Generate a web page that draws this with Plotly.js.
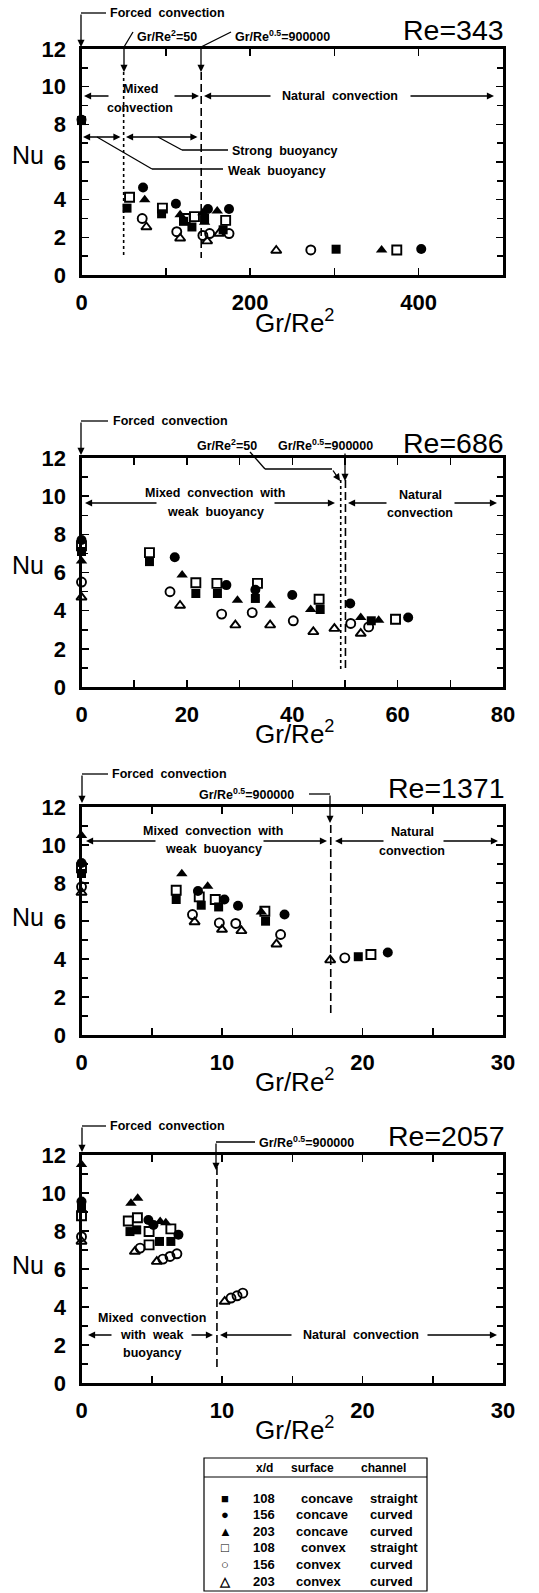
<!DOCTYPE html>
<html>
<head>
<meta charset="utf-8">
<script src="https://cdn.plot.ly/plotly-3.0.1.min.js"></script>
<style>html,body{margin:0;padding:0;background:#fff;}#chart{width:539px;height:1593px;}</style>
</head>
<body>
<div id="chart"></div>
<script>
// ---------------- DATA ----------------
// Re = 343 (x: Gr/Re^2, y: Nu)
const re343_fsq_x = [0, 54, 95, 121, 131, 146, 168, 302];
const re343_fsq_y = [8.2, 3.55, 3.25, 2.85, 2.55, 3.0, 2.4, 1.37];
const re343_fci_x = [0, 73, 112, 150, 175, 403];
const re343_fci_y = [8.25, 4.65, 3.78, 3.5, 3.5, 1.38];
const re343_ftr_x = [75, 117, 144, 146, 161, 356];
const re343_ftr_y = [4.0, 3.2, 3.3, 2.8, 3.4, 1.33];
const re343_osq_x = [57, 96, 123, 134, 171, 374];
const re343_osq_y = [4.13, 3.55, 3.0, 3.1, 2.9, 1.33];
const re343_oci_x = [72, 113, 144, 152, 175, 272];
const re343_oci_y = [3.0, 2.3, 2.1, 2.2, 2.2, 1.33];
const re343_otr_x = [77, 117, 149, 163, 231];
const re343_otr_y = [2.55, 1.95, 1.8, 2.2, 1.3];

// Re = 686
const re686_fsq_x = [0, 12.9, 21.7, 25.8, 33, 45.3, 55];
const re686_fsq_y = [7.1, 6.57, 4.9, 4.9, 4.64, 4.06, 3.47];
const re686_fci_x = [0, 17.7, 27.5, 33, 40, 51, 62];
const re686_fci_y = [7.7, 6.8, 5.34, 5.1, 4.82, 4.38, 3.64];
const re686_ftr_x = [0, 19.1, 29.6, 35.8, 43.5, 53, 56.4];
const re686_ftr_y = [6.6, 5.87, 4.55, 4.29, 4.06, 3.64, 3.5];
const re686_osq_x = [0, 12.9, 21.7, 25.7, 33.4, 45.1, 59.6];
const re686_osq_y = [7.4, 7.04, 5.46, 5.43, 5.43, 4.6, 3.55];
const re686_oci_x = [0, 16.8, 26.6, 32.4, 40.2, 51.1, 54.5];
const re686_oci_y = [5.5, 4.99, 3.82, 3.9, 3.47, 3.33, 3.15];
const re686_otr_x = [0, 18.7, 29.2, 35.8, 44, 48, 53];
const re686_otr_y = [4.7, 4.27, 3.24, 3.24, 2.89, 3.06, 2.8];

// Re = 1371
const re1371_fsq_x = [0, 6.74, 8.52, 9.76, 13.1, 19.7];
const re1371_fsq_y = [8.5, 7.13, 6.83, 6.74, 5.99, 4.12];
const re1371_fci_x = [0, 8.29, 10.17, 11.14, 14.45, 21.8];
const re1371_fci_y = [9.05, 7.58, 7.13, 6.8, 6.34, 4.34];
const re1371_ftr_x = [0, 7.14, 8.98, 12.8];
const re1371_ftr_y = [10.5, 8.49, 7.83, 6.48];
const re1371_osq_x = [0, 6.74, 8.38, 9.52, 13.05, 20.6];
const re1371_osq_y = [8.8, 7.62, 7.27, 7.13, 6.51, 4.24];
const re1371_oci_x = [0, 7.9, 9.81, 10.98, 14.17, 18.74];
const re1371_oci_y = [7.8, 6.34, 5.9, 5.87, 5.29, 4.06];
const re1371_otr_x = [0, 8.05, 10.0, 11.38, 13.88, 17.7];
const re1371_otr_y = [7.5, 5.95, 5.55, 5.48, 4.78, 3.94];

// Re = 2057
const re2057_fsq_x = [0, 3.45, 3.93, 5.55, 6.36];
const re2057_fsq_y = [9.2, 7.97, 8.06, 7.45, 7.45];
const re2057_fci_x = [0, 4.76, 5.12, 6.9];
const re2057_fci_y = [9.55, 8.58, 8.32, 7.8];
const re2057_ftr_x = [0, 3.52, 4.0, 5.6, 6.0];
const re2057_ftr_y = [11.5, 9.46, 9.72, 8.5, 8.44];
const re2057_osq_x = [0, 3.33, 3.98, 4.81, 4.81, 6.36];
const re2057_osq_y = [8.8, 8.53, 8.7, 7.97, 7.27, 8.11];
const re2057_oci_x = [0, 4.17, 5.79, 6.3, 6.79, 10.64, 11.07, 11.48];
const re2057_oci_y = [7.7, 7.1, 6.52, 6.66, 6.8, 4.47, 4.59, 4.73];
const re2057_otr_x = [0, 3.8, 5.36, 10.19];
const re2057_otr_y = [7.45, 6.92, 6.39, 4.29];

// Panel titles / axes
const panelTitles = ['Re=343', 'Re=686', 'Re=1371', 'Re=2057'];
const xRanges = [[0, 500], [0, 80], [0, 30], [0, 30]];
const xMajor = [200, 20, 10, 10];
const xMinor = [100, 10, 5, 5];

// Legend table
const legendXd = ['108', '156', '203', '108', '156', '203'];
const legendSurface = ['concave', 'concave', 'concave', 'convex', 'convex', 'convex'];
const legendChannel = ['straight', 'curved', 'curved', 'straight', 'curved', 'curved'];
const legendGlyph = ['■', '●', '▲', '□', '○', '△'];

// ---------------- BUILD ----------------
const W = 539, H = 1593;
const fx = x => x / W, fy = y => 1 - y / H;
const FONT = 'Liberation Sans, Arial, Helvetica, sans-serif';

const styles = {
  fsq: {symbol: 'square', size: 9, color: 'black'},
  fci: {symbol: 'circle', size: 10, color: 'black'},
  ftr: {symbol: 'triangle-up', size: 10, color: 'black'},
  osq: {symbol: 'square-open', size: 9, color: 'black', line: {width: 1.9, color: 'black'}},
  oci: {symbol: 'circle-open', size: 9, color: 'black', line: {width: 1.9, color: 'black'}},
  otr: {symbol: 'triangle-up-open', size: 9, color: 'black', line: {width: 1.9, color: 'black'}}
};

const panels = [
  [[re343_fsq_x, re343_fsq_y, 'fsq'], [re343_fci_x, re343_fci_y, 'fci'], [re343_ftr_x, re343_ftr_y, 'ftr'],
   [re343_osq_x, re343_osq_y, 'osq'], [re343_oci_x, re343_oci_y, 'oci'], [re343_otr_x, re343_otr_y, 'otr']],
  [[re686_fsq_x, re686_fsq_y, 'fsq'], [re686_fci_x, re686_fci_y, 'fci'], [re686_ftr_x, re686_ftr_y, 'ftr'],
   [re686_osq_x, re686_osq_y, 'osq'], [re686_oci_x, re686_oci_y, 'oci'], [re686_otr_x, re686_otr_y, 'otr']],
  [[re1371_fsq_x, re1371_fsq_y, 'fsq'], [re1371_fci_x, re1371_fci_y, 'fci'], [re1371_ftr_x, re1371_ftr_y, 'ftr'],
   [re1371_osq_x, re1371_osq_y, 'osq'], [re1371_oci_x, re1371_oci_y, 'oci'], [re1371_otr_x, re1371_otr_y, 'otr']],
  [[re2057_fsq_x, re2057_fsq_y, 'fsq'], [re2057_fci_x, re2057_fci_y, 'fci'], [re2057_ftr_x, re2057_ftr_y, 'ftr'],
   [re2057_osq_x, re2057_osq_y, 'osq'], [re2057_oci_x, re2057_oci_y, 'oci'], [re2057_otr_x, re2057_otr_y, 'otr']]
];

// pixel geometry of each panel frame (top, bottom)
const frames = [[49, 275], [458, 687], [807, 1035], [1155, 1383]];
const xDom = [fx(81.5), fx(503)];

const traces = [];
panels.forEach((p, i) => {
  const sfx = i === 0 ? '' : String(i + 1);
  p.forEach(([xs, ys, st]) => {
    traces.push({
      type: 'scatter', mode: 'markers', x: xs, y: ys,
      xaxis: 'x' + sfx, yaxis: 'y' + sfx,
      marker: styles[st], cliponaxis: false, showlegend: false, hoverinfo: 'x+y'
    });
  });
});

const layout = {
  width: W, height: H, margin: {l: 0, r: 0, t: 0, b: 0},
  paper_bgcolor: 'white', plot_bgcolor: 'white', showlegend: false,
  font: {family: FONT, color: 'black'},
  shapes: [], annotations: []
};

frames.forEach(([top, bot], i) => {
  const sfx = i === 0 ? '' : String(i + 1);
  const common = {
    showline: true, linewidth: 3, linecolor: 'black', mirror: 'allticks',
    ticks: 'inside', ticklen: 7, tickwidth: 1.5, tickcolor: 'black',
    showgrid: false, zeroline: false, fixedrange: true,
    tickfont: {family: FONT, size: 22, color: 'black', weight: 'bold'}
  };
  layout['xaxis' + sfx] = Object.assign({}, common, {
    domain: xDom, range: xRanges[i], dtick: xMajor[i], tick0: 0, anchor: 'y' + sfx,
    minor: {dtick: xMinor[i], tick0: 0, ticks: 'inside', ticklen: 7, tickwidth: 1.5, tickcolor: 'black'},
    ticklabelstandoff: 6
  });
  layout['yaxis' + sfx] = Object.assign({}, common, {
    domain: [fy(bot), fy(top)], range: [0, 12], dtick: 2, tick0: 0, anchor: 'x' + sfx,
    minor: {dtick: 1, tick0: 0, ticks: 'inside', ticklen: 6, tickwidth: 1.5, tickcolor: 'black'},
    ticklabelstandoff: 8
  });
});

// helpers for decorations (pixel coordinates of the page)
function L(x0, y0, x1, y1, w, dash) {
  layout.shapes.push({type: 'line', xref: 'paper', yref: 'paper',
    x0: fx(x0), y0: fy(y0), x1: fx(x1), y1: fy(y1),
    line: {color: 'black', width: w || 1.3, dash: dash || 'solid'}});
}
function VL(xref, xv, y0, y1, dash) {
  layout.shapes.push({type: 'line', xref: xref, yref: 'paper',
    x0: xv, x1: xv, y0: fy(y0), y1: fy(y1),
    line: {color: 'black', width: 1.6, dash: dash}});
}
function A(xh, yh, xt, yt, both) {
  layout.annotations.push({xref: 'paper', yref: 'paper', x: fx(xh), y: fy(yh),
    ax: xt - xh, ay: yt - yh, text: '', showarrow: true, arrowhead: 2, arrowsize: 1.1,
    arrowwidth: 1.3, arrowcolor: 'black', standoff: 0, startstandoff: 0,
    arrowside: both ? 'end+start' : 'end', startarrowhead: 2, startarrowsize: 1.1});
}
function T(x, y, s, size, anchor, bold) {
  layout.annotations.push({xref: 'paper', yref: 'paper', x: fx(x), y: fy(y), text: s,
    showarrow: false, xanchor: anchor || 'center', yanchor: 'middle',
    font: {family: FONT, size: size, color: 'black', weight: bold === false ? 'normal' : 'bold'}});
}

const SM = 12.5;
// axis titles and Re labels
const nuY = [155, 565, 917, 1265];
const titleY = [321, 732, 1080, 1428];
const reY = [30, 443, 788, 1136];
frames.forEach((f, i) => {
  T(28, nuY[i], 'Nu', 25, 'center', false);
  T(294, titleY[i], 'Gr/Re<sup>2</sup>', 26, 'center', false);
  T(506, reY[i], panelTitles[i], 28.5, 'right', false);
});

// ----- Panel 1 (Re=343)
T(108, 13, 'Forced  convection', SM, 'left');
L(106, 13, 81, 13); A(81, 47, 81, 13);
T(135, 36, 'Gr/Re<sup>2</sup>=50', SM, 'left');
L(133, 32, 124, 47); A(124, 72, 124, 47);
T(233, 36, 'Gr/Re<sup>0.5</sup>=900000', SM, 'left');
L(231, 32, 201, 47); A(201, 72, 201, 47);
VL('x', 50, 72, 258, '3px,3px');
VL('x', 142, 72, 258, '8px,4px');
A(84, 96, 110, 96); T(140, 89, 'Mixed', SM); T(140, 108, 'convection', SM); A(199, 96, 173, 96);
A(204, 96, 272, 96); T(340, 96, 'Natural  convection', SM); A(494, 96, 409, 96);
A(83, 137, 122, 137, true); A(126, 137, 199, 137, true);
L(158, 137, 182, 150); L(182, 150, 228, 150); T(230, 151, 'Strong  buoyancy', SM, 'left');
L(97, 137, 152, 169); L(152, 169, 223, 169); T(226, 171, 'Weak  buoyancy', SM, 'left');

// ----- Panel 2 (Re=686)
T(111, 421, 'Forced  convection', SM, 'left');
L(108, 421, 81, 421); A(81, 455, 81, 421);
T(195, 445, 'Gr/Re<sup>2</sup>=50', SM, 'left');
T(276, 445, 'Gr/Re<sup>0.5</sup>=900000', SM, 'left');
L(250, 452, 265, 469); L(265, 469, 332, 469); A(340, 481, 332, 469);
A(345, 481, 345, 452);
VL('x2', 49.2, 480, 670, '3px,3px');
VL('x2', 50.1, 480, 670, '8px,4px');
T(215, 493, 'Mixed  convection  with', SM); T(215, 512, 'weak  buoyancy', SM);
A(85, 503, 158, 503); A(335, 503, 273, 503);
T(420, 495, 'Natural', SM); T(420, 513, 'convection', SM);
A(348, 503, 388, 503); A(497, 503, 453, 503);

// ----- Panel 3 (Re=1371)
T(110, 774, 'Forced  convection', SM, 'left');
L(108, 774, 82, 774); A(82, 803, 82, 774);
T(197, 794, 'Gr/Re<sup>0.5</sup>=900000', SM, 'left');
L(309, 794, 330, 794); A(330, 823, 330, 794);
VL('x3', 17.74, 825, 1017, '8px,4px');
T(213, 831, 'Mixed  convection  with', SM); T(213, 849, 'weak  buoyancy', SM);
A(86, 841, 157, 841); A(327, 841, 262, 841);
T(412, 832, 'Natural', SM); T(412, 851, 'convection', SM);
A(335, 841, 385, 841); A(498, 841, 442, 841);

// ----- Panel 4 (Re=2057)
T(108, 1126, 'Forced  convection', SM, 'left');
L(106, 1126, 82, 1126); A(82, 1152, 82, 1126);
T(257, 1142, 'Gr/Re<sup>0.5</sup>=900000', SM, 'left');
L(255, 1142, 216, 1142); A(216, 1170, 216, 1142);
VL('x4', 9.64, 1167, 1367, '8px,4px');
T(152, 1318, 'Mixed  convection', SM);
A(88, 1335, 113, 1335); T(152, 1335, 'with  weak', SM); A(213, 1335, 190, 1335);
T(152, 1353, 'buoyancy', SM);
A(220, 1335, 293, 1335); T(361, 1335, 'Natural  convection', SM); A(497, 1335, 426, 1335);

// ----- Legend table
layout.shapes.push({type: 'rect', xref: 'paper', yref: 'paper',
  x0: fx(204), x1: fx(427), y0: fy(1591), y1: fy(1458), line: {color: 'black', width: 1.2}});
L(204, 1477, 427, 1477, 1);
T(264, 1468, 'x/d', 12);
T(312, 1468, 'surface', 12);
T(383, 1468, 'channel', 12);
legendXd.forEach((v, i) => {
  const y = 1498 + i * 16.6;
  T(225, y, legendGlyph[i], 13);
  T(264, y, legendXd[i], 13);
  T(i === 0 || i === 3 ? 299 : 294, y, legendSurface[i], 13, 'left');
  T(368, y, legendChannel[i], 13, 'left');
});

Plotly.newPlot('chart', traces, layout, {staticPlot: true, displayModeBar: false});
</script>
</body>
</html>
